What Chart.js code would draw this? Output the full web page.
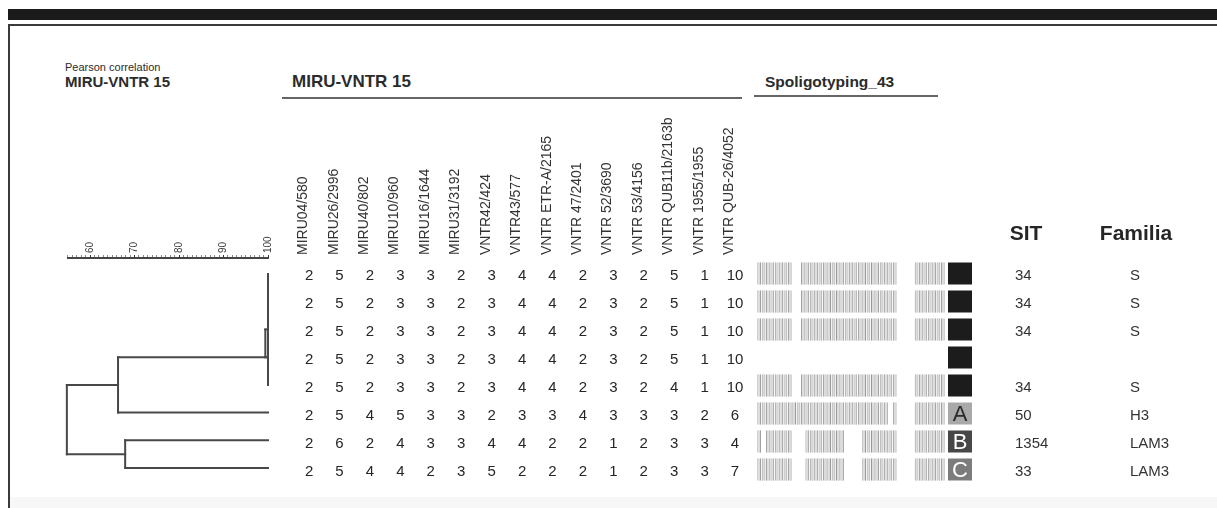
<!DOCTYPE html>
<html>
<head>
<meta charset="utf-8">
<script src="https://cdn.jsdelivr.net/npm/chart.js@4.4.0/dist/chart.umd.min.js"></script>
<style>
  html, body { margin: 0; padding: 0; background: #fff; }
  body { width: 1217px; height: 508px; position: relative; overflow: hidden;
         font-family: "Liberation Sans", Arial, sans-serif; color: #2b2b2b; }
  .abs { position: absolute; white-space: nowrap; line-height: 1; }
  #topbar { left: 8px; top: 9px; width: 1209px; height: 11px; background: #1a1a1a; }
  #frame { left: 8px; top: 24px; width: 1209px; height: 484px; box-sizing: border-box;
           border-top: 2px solid #3a3a3a; border-left: 2px solid #3a3a3a; }
  #foot { left: 10px; top: 497px; width: 1207px; height: 11px; background: #f7f7f7; }
  .rule { height: 2px; background: #666; }
  canvas { position: absolute; }
</style>
</head>
<body>
<div id="topbar" class="abs"></div>
<div id="frame" class="abs"></div>
<div id="foot" class="abs"></div>

<div class="abs" style="left:65px; top:62px; font-size:11px;">Pearson correlation</div>
<div class="abs" style="left:65px; top:74px; font-size:15px; font-weight:bold;">MIRU-VNTR 15</div>
<div class="abs" style="left:292px; top:73px; font-size:17px; font-weight:bold;">MIRU-VNTR 15</div>
<div class="abs rule" style="left:282px; top:97px; width:460px;"></div>
<div class="abs" style="left:765px; top:74px; font-size:15.5px; font-weight:bold;">Spoligotyping_43</div>
<div class="abs rule" style="left:754px; top:95px; width:184px;"></div>

<canvas id="dendro" width="240" height="300" style="left:40px; top:200px;"></canvas>
<canvas id="miru" width="470" height="400" style="left:285px; top:100px;"></canvas>
<canvas id="spol" width="467" height="300" style="left:750px; top:200px;"></canvas>

<script>
// ===== DATA =====
const FONT = '"Liberation Sans", Arial, sans-serif';
const ROWS = [1, 2, 3, 4, 5, 6, 7, 8];

const loci = [
  'MIRU04/580', 'MIRU26/2996', 'MIRU40/802', 'MIRU10/960', 'MIRU16/1644',
  'MIRU31/3192', 'VNTR42/424', 'VNTR43/577', 'VNTR ETR-A/2165', 'VNTR 47/2401',
  'VNTR 52/3690', 'VNTR 53/4156', 'VNTR QUB11b/2163b', 'VNTR 1955/1955', 'VNTR QUB-26/4052'
];

// copy numbers per isolate (one row each)
const row1 = [2, 5, 2, 3, 3, 2, 3, 4, 4, 2, 3, 2, 5, 1, 10];
const row2 = [2, 5, 2, 3, 3, 2, 3, 4, 4, 2, 3, 2, 5, 1, 10];
const row3 = [2, 5, 2, 3, 3, 2, 3, 4, 4, 2, 3, 2, 5, 1, 10];
const row4 = [2, 5, 2, 3, 3, 2, 3, 4, 4, 2, 3, 2, 5, 1, 10];
const row5 = [2, 5, 2, 3, 3, 2, 3, 4, 4, 2, 3, 2, 4, 1, 10];
const row6 = [2, 5, 4, 5, 3, 3, 2, 3, 3, 4, 3, 3, 3, 2, 6];
const row7 = [2, 6, 2, 4, 3, 3, 4, 4, 2, 2, 1, 2, 3, 3, 4];
const row8 = [2, 5, 4, 4, 2, 3, 5, 2, 2, 2, 1, 2, 3, 3, 7];
const miruRows = [row1, row2, row3, row4, row5, row6, row7, row8];

// spoligotype, 43 spacers ('' = not typed)
const spoligo = [
  '1111111100111111111111111111111100001111111',
  '1111111100111111111111111111111100001111111',
  '1111111100111111111111111111111100001111111',
  '',
  '1111111100111111111111111111111100001111111',
  '1111111111111111111111111111110100001111111',
  '1011111100011111111100001111111100001111111',
  '1111111100011111111100001111111100001111111'
];

const typeLetter = ['', '', '', '', '', 'A', 'B', 'C'];
const typeFill   = ['#1c1c1c', '#1c1c1c', '#1c1c1c', '#1c1c1c', '#1c1c1c', '#a9a9a9', '#474747', '#7c7c7c'];
const typeInk    = ['#fff', '#fff', '#fff', '#fff', '#fff', '#2a2a2a', '#fff', '#fff'];
const sit        = ['34', '34', '34', '', '34', '50', '1354', '33'];
const familia    = ['S', 'S', 'S', '', 'S', 'H3', 'LAM3', 'LAM3'];

// dendrogram: vertical joins (similarity, first row, last row)
const joinSim = [100, 99.4, 66.3, 67.9, 54.8];
const joinTop = [1, 3, 4, 7, 5];
const joinBot = [5, 4, 6, 8, 7.5];
// horizontal branches (row, from similarity, to similarity)
const branchRow  = [4, 6, 5, 7.5, 7, 8, 3, 4];
const branchFrom = [66.3, 66.3, 54.8, 54.8, 67.9, 67.9, 99.4, 99.4];
const branchTo   = [100, 100, 66.3, 67.9, 100, 100, 100, 100];

// ===== DENDROGRAM =====
const LINE = '#484848';
const dendroSets = [];
joinSim.forEach((s, i) => dendroSets.push({
  data: [{ x: s, y: joinTop[i] }, { x: s, y: joinBot[i] }]
}));
branchRow.forEach((r, i) => dendroSets.push({
  data: [{ x: branchFrom[i], y: r }, { x: branchTo[i], y: r }]
}));
dendroSets.forEach(d => Object.assign(d, {
  showLine: true, borderColor: LINE, borderWidth: 2, pointRadius: 0,
  borderCapStyle: 'square', clip: false
}));

new Chart(document.getElementById('dendro'), {
  type: 'scatter',
  data: { datasets: dendroSets },
  options: {
    responsive: false, animation: false, events: [],
    layout: { padding: { left: 27.75, right: 12, top: 20, bottom: 14 } },
    plugins: { legend: { display: false }, tooltip: { enabled: false } },
    scales: {
      x: {
        type: 'linear', position: 'top', min: 55, max: 100,
        border: { display: true, color: '#444', width: 2 },
        grid: {
          drawOnChartArea: false, drawTicks: true, tickLength: 3,
          tickColor: c => (c.tick && c.tick.value % 10 === 0 ? '#333' : '#888')
        },
        ticks: {
          stepSize: 1, maxTicksLimit: 100, autoSkip: false,
          minRotation: 90, maxRotation: 90, padding: 2, labelOffset: 12,
          color: '#3a3a3a', font: { family: FONT, size: 10 },
          callback: v => (v % 10 === 0 ? String(v) : '')
        },
        afterFit: s => { s.height = 38; }
      },
      y: { type: 'linear', min: 0.42, max: 8.65, reverse: true, display: false }
    }
  }
});

// ===== MIRU TABLE =====
const copyText = {
  id: 'copyText',
  afterDatasetsDraw(chart) {
    const { ctx, scales: { x, y } } = chart;
    ctx.save();
    ctx.font = '15px ' + FONT;
    ctx.fillStyle = '#262626';
    ctx.textAlign = 'center';
    ctx.textBaseline = 'middle';
    miruRows.forEach((vals, r) => {
      vals.forEach((v, c) => {
        ctx.fillText(String(v), x.getPixelForValue(c), y.getPixelForValue(ROWS[r]));
      });
    });
    ctx.restore();
  }
};

new Chart(document.getElementById('miru'), {
  type: 'line',
  data: { labels: loci, datasets: [] },
  plugins: [copyText],
  options: {
    responsive: false, animation: false, events: [],
    layout: { padding: { left: 7.75, right: 4.75, top: 12, bottom: 14 } },
    plugins: { legend: { display: false }, tooltip: { enabled: false } },
    scales: {
      x: {
        type: 'category', position: 'top', offset: true,
        grid: { display: false, drawTicks: false }, border: { display: false },
        ticks: {
          autoSkip: false, minRotation: 90, maxRotation: 90, padding: 7, labelOffset: 11,
          color: '#333', font: { family: FONT, size: 14 }
        },
        afterFit: s => { s.height = 150; }
      },
      y: { type: 'linear', min: 0.5, max: 8.5, reverse: true, display: false }
    }
  }
});

// ===== SPOLIGOTYPES, TYPE, SIT, FAMILIA =====
const spacers = Array.from({ length: 43 }, (_, i) => String(i + 1));
const spolSets = spoligo.map((pat, r) => ({
  data: spacers.map((_, i) => (pat[i] === '1' ? [ROWS[r] - 0.4, ROWS[r] + 0.4] : null)),
  backgroundColor: '#dcdcdc',
  borderColor: '#999999',
  borderWidth: { left: 1, right: 1, top: 0, bottom: 0 },
  borderSkipped: false,
  grouped: false,
  categoryPercentage: 1,
  barPercentage: 0.85
}));

const sideColumns = {
  id: 'sideColumns',
  afterDatasetsDraw(chart) {
    const { ctx, chartArea: a, scales: { y } } = chart;
    ctx.save();
    // headers
    ctx.fillStyle = '#262626';
    ctx.font = 'bold 21px ' + FONT;
    ctx.textAlign = 'center';
    ctx.textBaseline = 'alphabetic';
    ctx.fillText('SIT', a.right + 81, 40);
    ctx.fillText('Familia', a.right + 191, 40);
    ROWS.forEach((row, r) => {
      const py = y.getPixelForValue(row);
      // type box
      ctx.fillStyle = typeFill[r];
      ctx.fillRect(a.right + 3, py - 11, 24, 22);
      if (typeLetter[r]) {
        ctx.fillStyle = typeInk[r];
        ctx.font = '22px ' + FONT;
        ctx.textAlign = 'center';
        ctx.textBaseline = 'middle';
        ctx.fillText(typeLetter[r], a.right + 15, py + 1);
      }
      ctx.fillStyle = '#333';
      ctx.font = '15px ' + FONT;
      ctx.textAlign = 'left';
      ctx.textBaseline = 'middle';
      ctx.fillText(sit[r], a.right + 70, py + 2);
      ctx.fillText(familia[r], a.right + 185, py + 2);
    });
    ctx.restore();
  }
};

new Chart(document.getElementById('spol'), {
  type: 'bar',
  data: { labels: spacers, datasets: spolSets },
  plugins: [sideColumns],
  options: {
    responsive: false, animation: false, events: [],
    layout: { padding: { left: 7, right: 272, top: 59.5, bottom: 16.5 } },
    plugins: { legend: { display: false }, tooltip: { enabled: false } },
    scales: {
      x: { type: 'category', display: false, offset: true },
      y: { type: 'linear', min: 0.5, max: 8.5, reverse: true, display: false }
    }
  }
});
</script>
</body>
</html>
